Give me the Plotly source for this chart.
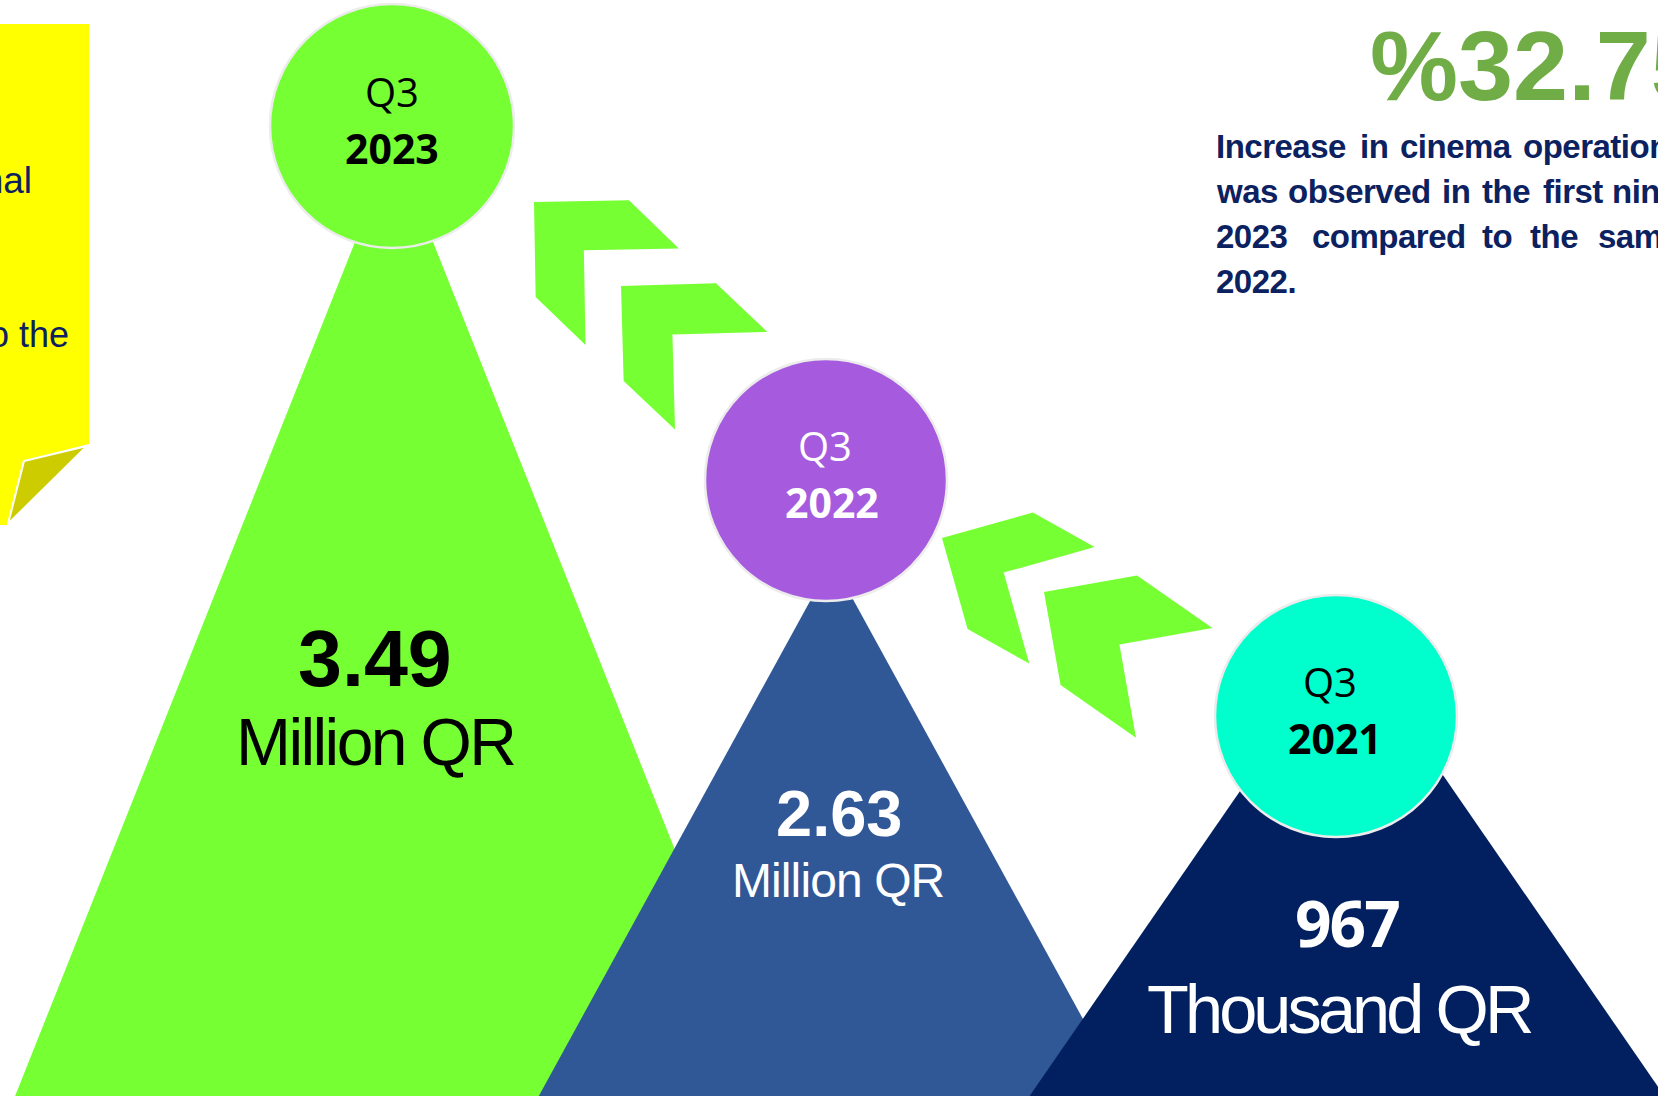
import math
import plotly.graph_objects as go

# ---------------- data ----------------
periods = ["Q3", "Q3", "Q3"]
years = ["2023", "2022", "2021"]
revenue = [3.49, 2.63, 967]
revenue_units = ["Million QR", "Million QR", "Thousand QR"]
growth_pct = 32.75
note_lines = [
    "Increase in cinema operations",
    "was observed in the first nine",
    "2023 compared to the same",
    "2022.",
]
side_note_lines = ["operational", "to the"]

# ---------------- canvas & styling ----------------
W, H = 1658, 1096
NAVY_TEXT = "#0C2160"
GREEN = "#76FF33"
ARIAL = "Liberation Sans, Arial, sans-serif"
OPEN = "Open Sans, sans-serif"

# mountain peaks (one per period)
peak_cx = [394, 832, 1347]
peak_apex = [144, 561, 636]
peak_slope = [0.398, 0.548, 0.69]
peak_color = [GREEN, "#305796", "#02205F"]

# round period badges on top of the peaks
badge_cx = [392, 826, 1336]
badge_cy = [126, 480, 716]
badge_r = [122, 121, 121]
badge_color = [GREEN, "#A65BDF", "#00FFCC"]
badge_text = ["#000000", "#FFFFFF", "#000000"]
period_dx = [0, -1, -6]
year_dx = [0, 6, -1]

# value labels inside the peaks
value_pos = [(375, 658), (839, 813), (1347, 922)]
value_font = [(ARIAL, 79, 0), (ARIAL, 65, 0), (OPEN, 64, -2)]
unit_pos = [(375, 742), (838, 880), (1339, 1009)]
unit_font = [(66, -2.6), (48, -0.9), (68.5, -3.9)]
value_color = ["#000000", "#FFFFFF", "#FFFFFF"]

# arrow chevrons: corner x, corner y, rotation (deg), arm length, thickness
chevrons = [
    (534, 202, -1.0, 95, 49),
    (621, 286, -1.6, 95, 50),
    (942, 538, -15.7, 94.5, 50),
    (1044, 592, -10.1, 94.5, 65),
]

# justified paragraph: left edge of each word, and baselines
note_word_x = [
    [1216, 1360, 1400, 1523],
    [1216, 1288, 1442, 1482, 1543, 1612],
    [1216, 1312, 1482, 1530, 1598],
    [1216],
]
note_baseline = [158, 203, 248, 293]

fig = go.Figure()


def polygon(xs, ys, color, line_color=None, line_width=0):
    fig.add_trace(go.Scatter(
        x=list(xs) + [xs[0]], y=list(ys) + [ys[0]],
        mode="lines", fill="toself", fillcolor=color,
        line=dict(color=line_color or color, width=line_width),
        hoverinfo="skip", showlegend=False,
    ))


# yellow side note with folded corner
polygon([0, 89, 89, 23, 7, 0], [24, 24, 444, 461, 525, 525], "#FFFF00")
polygon([24, 87, 8], [461, 446, 524], "#CCCC00", "#FFFFFF", 2)

# peaks, drawn from the back one to the front one
for cx, ay, s, col in zip(peak_cx, peak_apex, peak_slope, peak_color):
    base = H + 40
    half = s * (base - ay)
    polygon([cx, cx + half, cx - half], [ay, base, base], col)

# chevrons pointing from one period to the next
for x0, y0, ang, L, t in chevrons:
    a = math.radians(ang)
    ca, sa = math.cos(a), math.sin(a)
    local = [(0, 0), (L, 0), (L + t, t), (t, t), (t, L + t), (0, L)]
    xs = [x0 + px * ca - py * sa for px, py in local]
    ys = [y0 + px * sa + py * ca for px, py in local]
    polygon(xs, ys, GREEN)

# badges
shapes = []
for cx, cy, r, col in zip(badge_cx, badge_cy, badge_r, badge_color):
    shapes.append(dict(
        type="circle", xref="x", yref="y", layer="above",
        x0=cx - r, x1=cx + r, y0=cy - r, y1=cy + r,
        fillcolor=col, line=dict(color="#ECECEC", width=2.5),
    ))

annotations = []


def label(x, y, text, size, color, family=ARIAL, weight="normal",
          xanchor="center", spacing=0):
    if spacing:
        text = f'<span style="letter-spacing:{spacing}px">{text}</span>'
    annotations.append(dict(
        x=x, y=y, xref="x", yref="y", text=text, showarrow=False,
        xanchor=xanchor, yanchor="middle", borderpad=0, borderwidth=0,
        font=dict(family=family, size=size, color=color, weight=weight),
    ))


for i in range(3):
    cx, cy = badge_cx[i], badge_cy[i]
    label(cx + period_dx[i], cy - 35, periods[i], 40, badge_text[i], OPEN)
    label(cx + year_dx[i], cy + 22, years[i], 41, badge_text[i], OPEN, "bold")

    fam, size, ls = value_font[i]
    label(value_pos[i][0], value_pos[i][1], f"{revenue[i]:g}", size,
          value_color[i], fam, "bold", spacing=ls)
    usize, uls = unit_font[i]
    label(unit_pos[i][0], unit_pos[i][1], revenue_units[i], usize,
          value_color[i], ARIAL, spacing=uls)

# headline growth figure
label(1370, 65, f"%{growth_pct:.2f}", 99, "#70AD47", ARIAL, "bold",
      xanchor="left")

# justified paragraph, word by word
for line, xs, base in zip(note_lines, note_word_x, note_baseline):
    for word, x in zip(line.split(), xs):
        label(x, base - 12, word, 33, NAVY_TEXT, ARIAL, "bold",
              xanchor="left", spacing=-0.5)

# side note text (runs off the left edge)
label(32, 180, side_note_lines[0], 37, NAVY_TEXT, ARIAL, xanchor="right")
label(69, 334, side_note_lines[1], 36, NAVY_TEXT, ARIAL, xanchor="right")

fig.update_layout(
    width=W, height=H, autosize=False,
    margin=dict(l=0, r=0, t=0, b=0, pad=0),
    paper_bgcolor="#FFFFFF", plot_bgcolor="#FFFFFF",
    xaxis=dict(range=[0, W], visible=False, fixedrange=True),
    yaxis=dict(range=[H, 0], visible=False, fixedrange=True),
    shapes=shapes, annotations=annotations, showlegend=False,
)

fig.write_html("out.html", config={"displayModeBar": False})
